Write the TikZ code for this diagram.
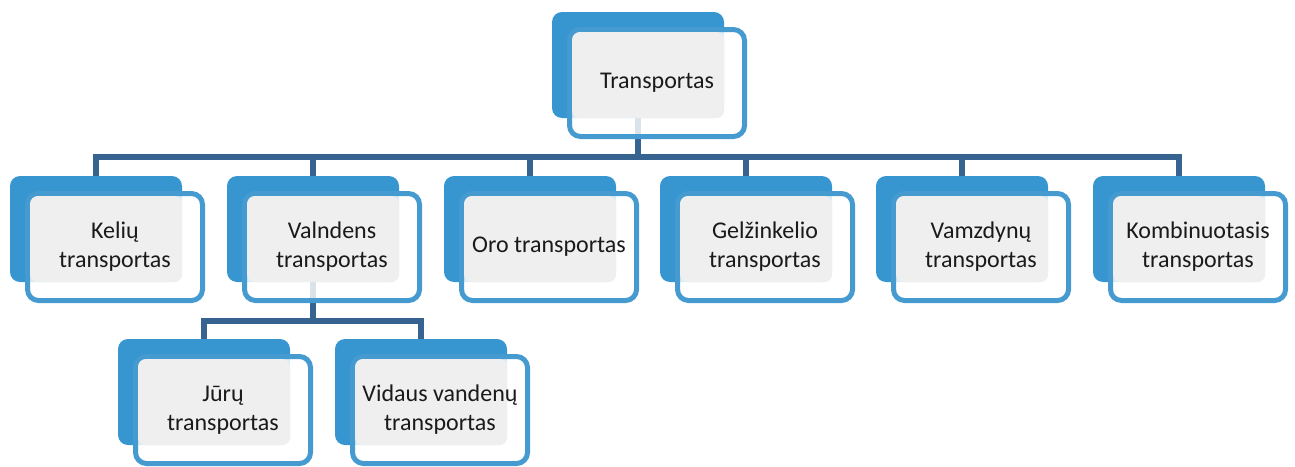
\documentclass[tikz,border=0pt]{standalone}
\usepackage{fontspec}
\setmainfont{Carlito}
\usetikzlibrary{calc,backgrounds}

\definecolor{backblue}{HTML}{3796D0}
\definecolor{edgeblue}{HTML}{459AD0}
\definecolor{linkblue}{HTML}{36638F}
\definecolor{panel}{HTML}{EFEFEF}
\definecolor{ink}{HTML}{1A1A1A}

\tikzset{
  backbox/.style={fill=backblue, draw=none, rounded corners=10pt,
    minimum width=172pt, minimum height=106pt, inner sep=0pt},
  frontbox/.style={fill=white, fill opacity=0.82, draw=edgeblue, draw opacity=1,
    line width=5pt, rounded corners=11pt,
    minimum width=175pt, minimum height=107pt, inner sep=0pt},
  panelbox/.style={fill=panel, rounded corners=8pt},
  caption/.style={text=ink, align=center, inner sep=0pt,
    font=\fontsize{24}{29}\selectfont},
  conn/.style={draw=linkblue, line width=6pt}
}

% one unit = one point, y grows downwards
% \unit{name}{left x of back box}{top y of back box}{text}
\newcommand{\unitbox}[4]{%
  \node[backbox] (#1-b) at (#2+86, #3+53) {};
  \node[frontbox] (#1) at (#2+105, #3+71) {};
  \fill[panelbox] ($(#1.north west)+(5,5)$) rectangle (#1-b.south east);
  \node[caption] (#1-t) at (#1) {#4};
}

\begin{document}
\begin{tikzpicture}[x=1pt, y=-1pt]
  \useasboundingbox (0,0) rectangle (1295,466);

  \unitbox{top}{552}{12}{Transportas}

  \unitbox{keliu}{10}{176}{Kelių\\transportas}
  \unitbox{vand}{227}{176}{Valndens\\transportas}
  \unitbox{oro}{444}{176}{Oro transportas}
  \unitbox{gelz}{660}{176}{Gelžinkelio\\transportas}
  \unitbox{vamz}{876}{176}{Vamzdynų\\transportas}
  \unitbox{komb}{1093}{176}{Kombinuotasis\\transportas}

  \unitbox{jur}{118}{339}{Jūrų\\transportas}
  \unitbox{vid}{335}{339}{Vidaus vandenų\\transportas}

  \coordinate (bus) at (0,157);
  \coordinate (subbus) at (0,321);

  \begin{scope}[on background layer]
    \foreach \c in {keliu,vand,oro,gelz,vamz,komb}
      \draw[conn] (top-b.south) -- (top-b.south |- bus) -| (\c-b.north);
    \foreach \c in {jur,vid}
      \draw[conn] (vand-b.south) -- (vand-b.south |- subbus) -| (\c-b.north);
  \end{scope}
\end{tikzpicture}
\end{document}
